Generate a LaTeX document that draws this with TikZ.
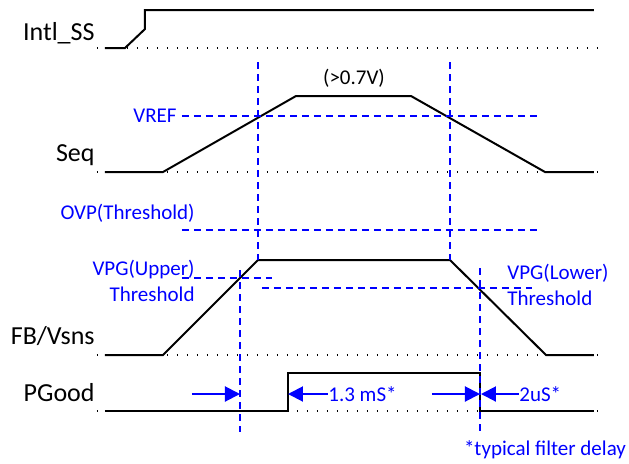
\documentclass[tikz,border=0pt]{standalone}
\usepackage{fontspec}
\setmainfont{Carlito}
\usetikzlibrary{arrows.meta}
\definecolor{guideBlue}{HTML}{0000FF}

\begin{document}
\begin{tikzpicture}[x=0.5pt, y=-0.5pt,
    sig/.style={line width=1pt, black},
    base/.style={line width=0.7pt, dash pattern=on 0.7pt off 4.3pt},
    guide/.style={draw=guideBlue, line width=1pt, dash pattern=on 3.5pt off 2.5pt},
    dim/.style={draw=guideBlue, line width=1pt, -{Triangle[length=7.5pt,width=7.5pt]}},
    signame/.style={font=\fontsize{13}{15}\selectfont, anchor=east, inner sep=0pt},
    lbl/.style={font=\fontsize{10.5}{13}\selectfont, text=guideBlue, inner sep=0pt},
  ]
  \useasboundingbox (0,0) rectangle (629,463);

  % signal names
  \node[signame] (ss) at (95,33) {Intl\_SS};
  \node[signame] (seq) at (95,155) {Seq};
  \node[signame] (fb) at (95,336) {FB/Vsns};
  \node[signame] (pg) at (95,393) {PGood};

  % baselines
  \foreach \y in {48,172,355,411}
    \draw[base] (97,\y) -- (598,\y);

  % waveforms
  \draw[sig] (105,48) -- (125,48) -- (145,29) -- (145,10) -- (594,10);
  \draw[sig] (105,172) -- (163,172) -- (296,96) -- (411,96) -- (545,172) -- (594,172);
  \draw[sig] (105,355) -- (163,355) -- (258,260) -- (450,260) -- (546,355) -- (594,355);
  \draw[sig] (105,411) -- (288,411) coordinate (pgrise) -- (288,373) -- (480,373)
    -- (480,411) coordinate (pgfall) -- (594,411);

  % thresholds
  \node[lbl, anchor=east] (vref) at (177,116) {VREF};
  \draw[guide] (182,116) -- (537,116);
  \node[lbl, text=black] (top) at (354,78) {(>0.7V)};
  \node[lbl, anchor=east] (ovp) at (195,213) {OVP(Threshold)};
  \draw[guide] (182,230) -- (537,230);
  \node[lbl, anchor=east, align=right] (vpgu) at (195,281) {VPG(Upper)\\Threshold};
  \draw[guide] (182,278) -- (272,278);
  \draw[guide] (262,288) -- (532,288);
  \node[lbl, anchor=west, align=left] (vpgl) at (507,285) {VPG(Lower)\\Threshold};

  % timing marks
  \draw[guide] (258,62) -- (258,260);
  \draw[guide] (450,62) -- (450,260);
  \draw[guide] (240,270) -- (240,432);
  \draw[guide] (480,268) -- (480,432);

  \coordinate (upcross) at (240,394);
  \coordinate (dncross) at (481,394);
  \draw[dim] (192,394) -- (upcross);
  \node[lbl, anchor=west] (trise) at (328,394) {1.3 mS*};
  \draw[dim] (trise.west) -- (pgrise |- trise);
  \draw[dim] (432,394) -- (480,394);
  \node[lbl, anchor=west] (tfall) at (519,394) {2uS*};
  \draw[dim] (tfall.west) -- (dncross);

  \node[lbl] (note) at (545,450) {*typical filter delay};
\end{tikzpicture}
\end{document}
